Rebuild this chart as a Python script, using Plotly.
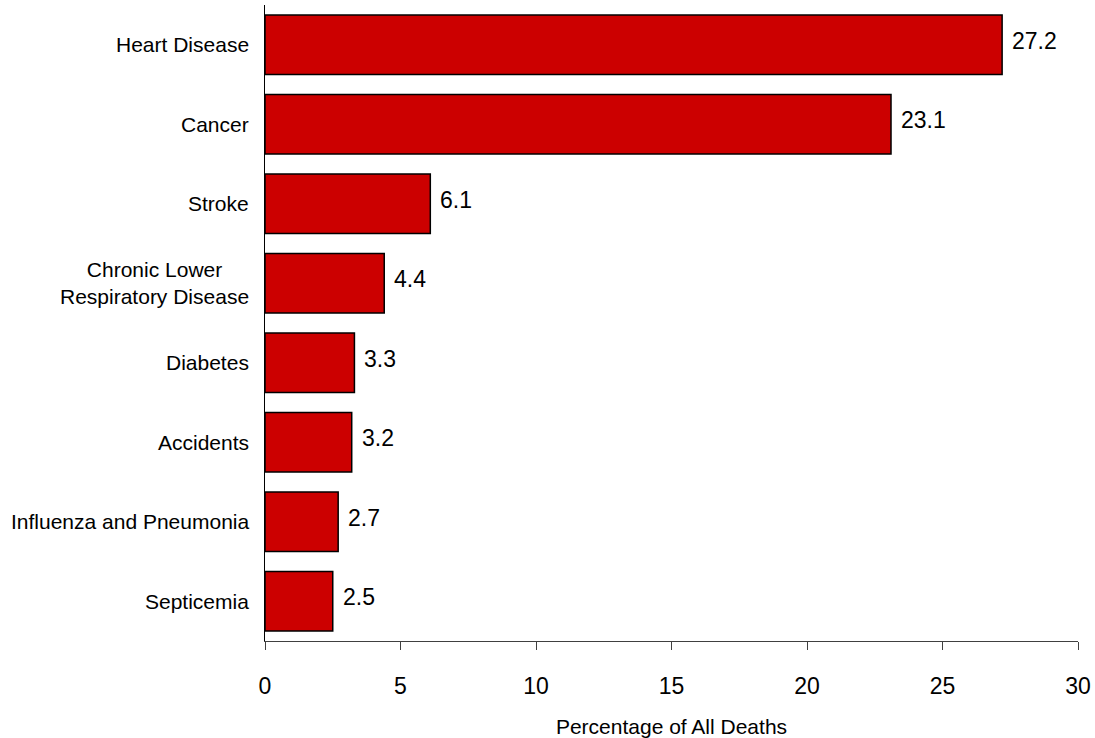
import plotly.graph_objects as go

# Leading causes of death, share of all deaths (%)
causes = [
    "Heart Disease",
    "Cancer",
    "Stroke",
    "Chronic Lower<br>Respiratory Disease",
    "Diabetes",
    "Accidents",
    "Influenza and Pneumonia",
    "Septicemia",
]
percent = [27.2, 23.1, 6.1, 4.4, 3.3, 3.2, 2.7, 2.5]
x_ticks = [0, 5, 10, 15, 20, 25, 30]

FONT = "Liberation Sans, Arial, sans-serif"

fig = go.Figure(
    go.Bar(
        x=percent,
        y=causes,
        orientation="h",
        marker=dict(color="#CC0000", line=dict(color="#000000", width=1.5)),
        hoverinfo="x+y",
    )
)

annotations = []
# value labels to the right of each bar
for c, v in zip(causes, percent):
    annotations.append(dict(
        x=v, y=c, xref="x", yref="y", text=f"{v:.1f}", showarrow=False,
        xanchor="left", yanchor="middle", xshift=8, yshift=4,
        font=dict(family=FONT, size=23, color="#000000"),
    ))
# category labels, centred when they wrap onto two lines
for c in causes:
    annotations.append(dict(
        x=0, y=c, xref="paper", yref="y", text=c, showarrow=False,
        xanchor="right", yanchor="middle", xshift=-14, align="center",
        font=dict(family=FONT, size=21, color="#000000"),
    ))

fig.update_layout(
    width=1095,
    height=738,
    margin=dict(l=265, r=17, t=5, b=97),
    paper_bgcolor="#FFFFFF",
    plot_bgcolor="#FFFFFF",
    bargap=0.25,
    showlegend=False,
    font=dict(family=FONT, color="#000000"),
    annotations=annotations,
    xaxis=dict(
        range=[0, 30],
        tickvals=x_ticks,
        ticktext=[str(t) for t in x_ticks],
        showgrid=False,
        zeroline=False,
        showline=True,
        linecolor="#404040",
        linewidth=1,
        ticks="outside",
        ticklen=8,
        tickwidth=1,
        tickcolor="#404040",
        ticklabelstandoff=16,
        tickfont=dict(family=FONT, size=23, color="#000000"),
        title=dict(text="Percentage of All Deaths", standoff=26,
                   font=dict(family=FONT, size=21, color="#000000")),
        automargin=False,
        fixedrange=True,
    ),
    yaxis=dict(
        categoryorder="array",
        categoryarray=causes,
        autorange="reversed",
        showticklabels=False,
        showgrid=False,
        zeroline=False,
        showline=True,
        linecolor="#000000",
        linewidth=1,
        ticks="",
        automargin=False,
        fixedrange=True,
    ),
)

fig.write_html("out.html")
